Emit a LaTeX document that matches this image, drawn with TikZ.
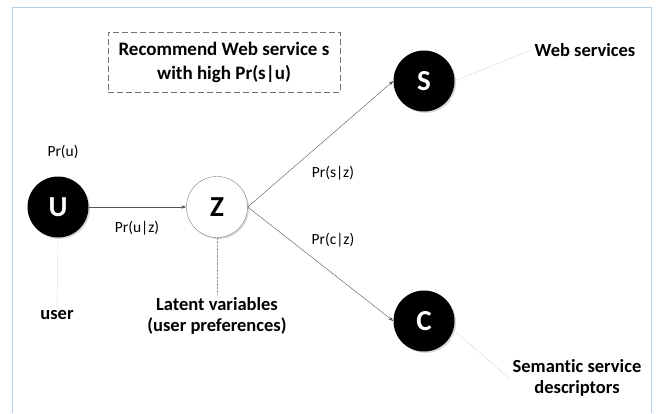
\documentclass[tikz,border=0pt]{standalone}
\usepackage{fontspec}
\setmainfont{Carlito}[Ligatures=NoCommon]
\usetikzlibrary{arrows.meta,shadows}
\definecolor{framecol}{RGB}{178,206,232}
\definecolor{linegray}{RGB}{85,85,85}
\tikzset{
	latentnode/.style={circle,minimum size=61pt,inner sep=0pt,font=\fontsize{29}{29}\selectfont\bfseries,
		drop shadow={opacity=.3,shadow xshift=1.5pt,shadow yshift=-1.5pt}},
	blacknode/.style={latentnode,fill=black,text=white},
	whitenode/.style={latentnode,fill=white,draw=gray,text=black},
	edge/.style={draw=linegray,-{Stealth[length=5pt,width=3.5pt]}},
	link/.style={densely dotted,gray!80},
	problabel/.style={font=\fontsize{15.5}{15.5}\selectfont},
	namelabel/.style={font=\fontsize{18.5}{21.5}\selectfont\bfseries,align=center}
}
\begin{document}
\begin{tikzpicture}[x=1pt,y=-1pt]
	\useasboundingbox (0,0) rectangle (660,413);
	\draw[framecol] (12,413) |- (651,7) -- (651,413);
	% goal box
	\node[draw=gray!90!black,dash pattern=on 6pt off 3pt,minimum width=232pt,minimum height=60pt,align=center,
		font=\fontsize{19}{24}\selectfont\bfseries] (goal) at (224,62) {Recommend Web service s\\with high Pr(s|u)};
	% variables
	\node[blacknode] (u) at (58,207) {U};
	\node[whitenode] (z) at (217,207) {Z};
	\node[blacknode] (s) at (424,81) {S};
	\node[blacknode] (c) at (424,321) {C};
	% probabilities
	\node[problabel] (pu) at (63,152) {Pr(u)};
	\node[problabel] (puz) at (137,228) {Pr(u|z)};
	\node[problabel] (psz) at (333,173) {Pr(s|z)};
	\node[problabel] (pcz) at (333,240) {Pr(c|z)};
	% names
	\node[namelabel] (websvc) at (585,50) {Web services};
	\node[namelabel] (sem) at (577,378) {Semantic service\\descriptors};
	\node[namelabel] (user) at (57,315) {user};
	\node[namelabel] (latent) at (217,316) {Latent variables\\(user preferences)};
	\draw[edge] (u) -- (z);
	\draw[edge] (z.east) -- (s.west);
	\draw[edge] (z.east) -- (c.west);
	\draw[link] (s.east) -- (websvc.west);
	\draw[link] (c.-17) -- (sem.west);
	\draw[link] (u.south) -- (user.north);
	\draw[link] (z.south) -- (latent.north);
\end{tikzpicture}
\end{document}
